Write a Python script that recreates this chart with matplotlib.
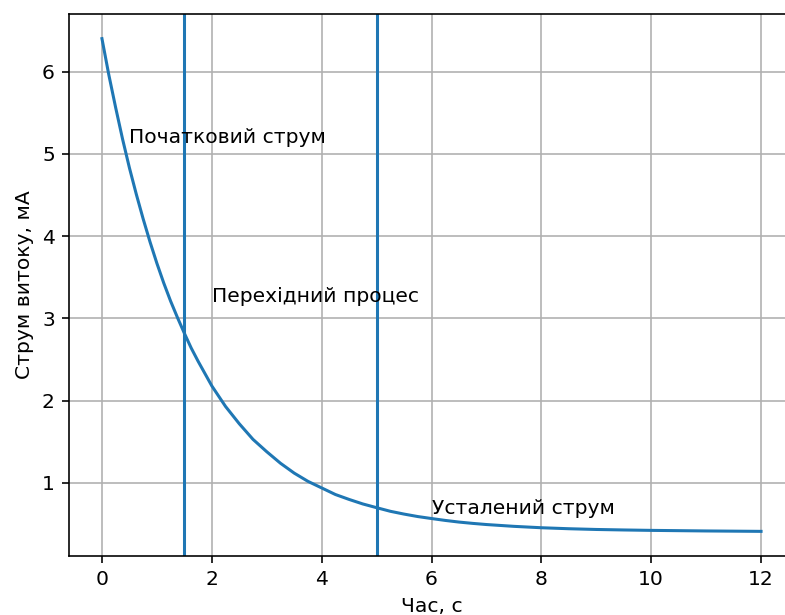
import matplotlib
matplotlib.use("Agg")
import matplotlib.pyplot as plt

# час, с
t = [0, 0.125, 0.25, 0.375, 0.5, 0.625, 0.75, 0.875, 1, 1.125, 1.25, 1.375,
     1.5, 1.625, 1.75, 1.875, 2, 2.25, 2.5, 2.75, 3, 3.25, 3.5, 3.75, 4,
     4.25, 4.5, 4.75, 5, 5.25, 5.5, 5.75, 6, 6.25, 6.5, 6.75, 7, 7.5, 8,
     8.5, 9, 9.5, 10, 11, 12]
# струм витоку, мА
current = [6.40, 5.96, 5.56, 5.18, 4.83, 4.51, 4.21, 3.93, 3.67, 3.43, 3.21,
           3.01, 2.82, 2.64, 2.48, 2.33, 2.18, 1.93, 1.72, 1.53, 1.38, 1.24,
           1.12, 1.02, 0.94, 0.86, 0.80, 0.745, 0.70, 0.656, 0.622, 0.592,
           0.568, 0.545, 0.525, 0.509, 0.495, 0.473, 0.456, 0.444, 0.435,
           0.429, 0.424, 0.417, 0.412]

# межі ділянок
t_start = 1.5
t_steady = 5

fig = plt.figure(figsize=(785 / 146, 615 / 146), dpi=146)
ax = fig.add_axes([69 / 785, 59 / 615, 725 / 785, 542 / 615])

ax.plot(t, current)
ax.axvline(t_start)
ax.axvline(t_steady)

ax.text(0.5, 5.13, "Початковий струм")
ax.text(2, 3.2, "Перехідний процес")
ax.text(6, 0.62, "Усталений струм")

ax.set_xlabel("Час, с")
ax.set_ylabel("Струм витоку, мА")
ax.grid(True)
ax.spines["right"].set_visible(False)

fig.savefig("out.png", dpi=146)
